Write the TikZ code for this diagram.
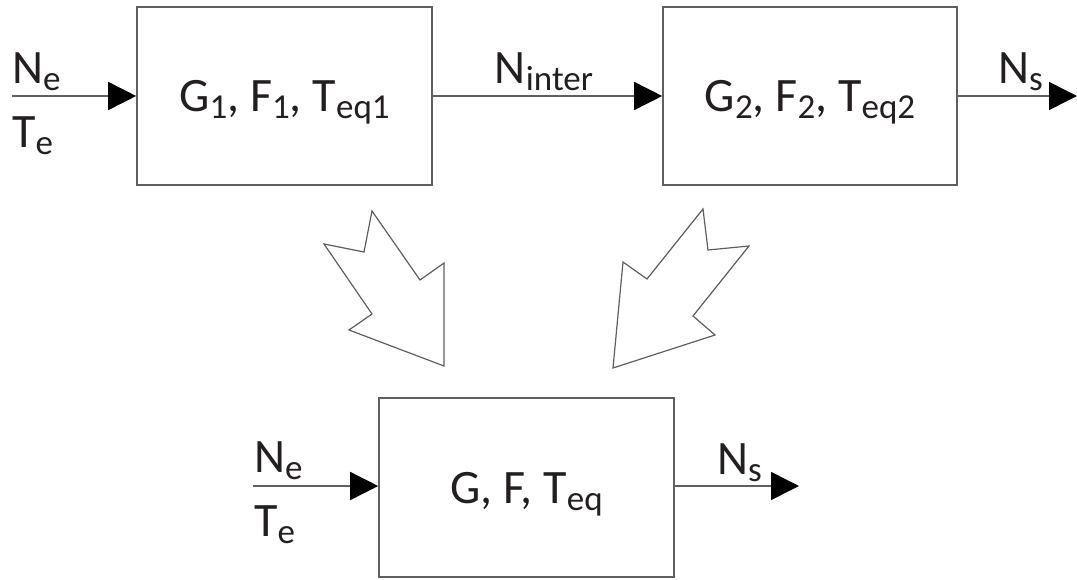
\documentclass[tikz,border=0pt]{standalone}
\usepackage{fontspec}
\setmainfont{Carlito}
\usetikzlibrary{arrows.meta}
\definecolor{lc}{RGB}{95,95,95}
\definecolor{tc}{RGB}{35,31,32}
\newcommand{\lsub}[1]{\raisebox{-7pt}{\fontsize{35}{35}\selectfont #1}}
\tikzset{
  blockbox/.style={draw=lc, line width=1.6pt, minimum width=295pt, minimum height=178pt,
    inner sep=0pt, text=tc, font=\fontsize{48}{48}\selectfont, text height=31pt, text depth=0pt},
  sigline/.style={draw=lc, line width=1.5pt, -{Triangle[length=28pt,width=28pt,fill=black,color=black]}},
  siglabel/.style={text=tc, font=\fontsize{48}{48}\selectfont, inner sep=0pt},
  bigarrow/.style={draw=lc, line width=1.2pt, line join=miter, fill=white}
}
\begin{document}
\begin{tikzpicture}[x=1pt,y=-1pt]
\useasboundingbox (0,0) rectangle (1077,579);
% blocks
\node[blockbox] (b1) at (284.5,96) {G\lsub{1}, F\lsub{1}, T\lsub{eq1}};
\node[blockbox, minimum width=294pt] (b2) at (810,96) {G\lsub{2}, F\lsub{2}, T\lsub{eq2}};
\node[blockbox, minimum height=179pt] (b3) at (526.5,487.5) {G, F, T\lsub{eq}};
% free ends
\coordinate (in1) at (12,96);
\coordinate (out2) at (1077,96);
\coordinate (in3) at (253,486);
\coordinate (out3) at (799,486);
% connectors
\draw[sigline] (in1) -- (b1.west);
\draw[sigline] (b1.east) -- (b2.west);
\draw[sigline] (b2.east) -- (out2);
\draw[sigline] (in3) -- (b3.west |- in3);
\draw[sigline] (b3.east |- in3) -- (out3);
% labels
\node[siglabel, anchor=base west] (ne1) at (12,83) {N\lsub{e}};
\node[siglabel, anchor=base west] (te1) at (12,147) {T\lsub{e}};
\node[siglabel, anchor=base] (nint) at (544,83) {N\lsub{inter}};
\node[siglabel, anchor=base west] (ns2) at (998,83) {N\lsub{s}};
\node[siglabel, anchor=base west] (ne3) at (254,472) {N\lsub{e}};
\node[siglabel, anchor=base west] (te3) at (254,536) {T\lsub{e}};
\node[siglabel, anchor=base west] (ns3) at (717,474) {N\lsub{s}};
% big hollow arrows
\draw[bigarrow] (372,211) -- (364,252) -- (324,244) -- (372,314) -- (349,330) -- (444,366) -- (444,263) -- (420,280) -- cycle;
\draw[bigarrow] (703,209) -- (708,250) -- (749,246) -- (693,316) -- (715,335) -- (613,368) -- (623,262) -- (647,279) -- cycle;
\end{tikzpicture}
\end{document}
